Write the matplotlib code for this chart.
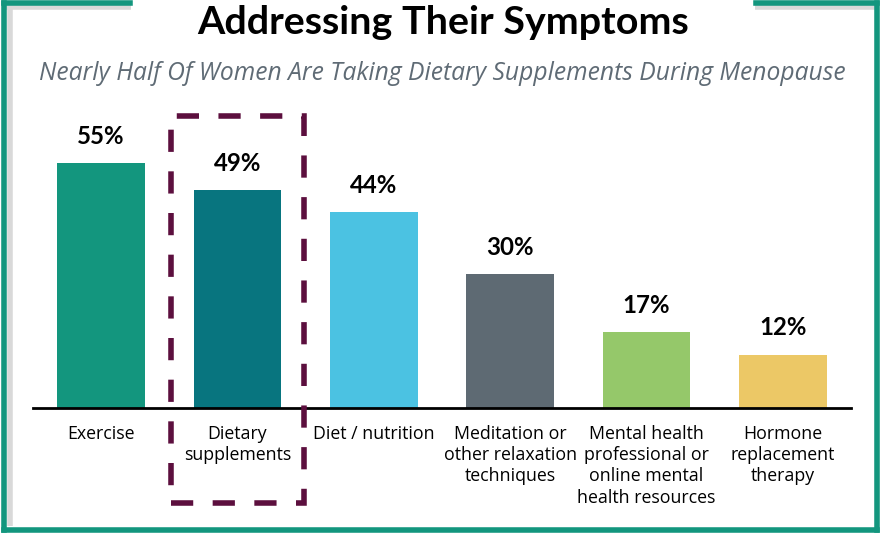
import matplotlib.pyplot as plt
import matplotlib.patches as patches
from matplotlib.lines import Line2D
import numpy as np

plt.rcParams['font.family'] = ['Open Sans', 'DejaVu Sans']

categories = ["Exercise", "Dietary\nsupplements", "Diet / nutrition",
              "Meditation or\nother relaxation\ntechniques",
              "Mental health\nprofessional or\nonline mental\nhealth resources",
              "Hormone\nreplacement\ntherapy"]
values = [55, 49, 44, 30, 17, 12]
colors = ["#13967e", "#08757f", "#4bc2e2", "#5e6a73", "#95c86a", "#ecc866"]
highlight = 1

W, H = 881, 533
fig = plt.figure(figsize=(W / 100, H / 100), dpi=100)

# axes placed so the baseline sits at y=408 px and spans x=33..851 px
ax = fig.add_axes([33 / W, (H - 408) / H, (851 - 33) / W, (408 - 100) / H])
x = np.arange(len(values))
ax.bar(x, values, width=0.645, color=colors)
ax.set_xlim(-0.5, len(values) - 0.5)
ax.set_ylim(0, 69.2)

for xi, v in zip(x, values):
    ax.annotate(f"{v}%", (xi, v), xytext=(0, 11), textcoords="offset points",
                ha="center", va="bottom", fontsize=17.3, fontweight="bold",
                color="black", family=["Lato", "DejaVu Sans"])

ax.set_xticks(x)
ax.set_xticklabels(categories, fontsize=12.8, linespacing=1.24, va="top")
ax.tick_params(axis="x", length=0, pad=12)
ax.set_yticks([])
for s in ["top", "right", "left"]:
    ax.spines[s].set_visible(False)
ax.spines["bottom"].set_linewidth(2)
ax.spines["bottom"].set_color("black")

# dashed highlight box around the dietary supplements bar
box = patches.Rectangle((highlight - 0.485, -21.3), 0.97, 87.0, fill=False,
                        edgecolor="#5c0f3e", linewidth=4, linestyle=(0, (4, 3.5)),
                        clip_on=False, zorder=5)
ax.add_patch(box)

# title and subtitle
fig.text(443 / W, 1 - 22 / H, "Addressing Their Symptoms", ha="center", va="center",
         fontsize=28.4, fontweight="bold", color="black", family=["Lato", "DejaVu Sans"])
fig.text(442 / W, 1 - 73 / H, "Nearly Half Of Women Are Taking Dietary Supplements During Menopause",
         ha="center", va="center", fontsize=17.7, style="italic", color="#5f6b75")

# green frame with gap for title
green = "#13967e"
def fl(xs, ys, **kw):
    fig.add_artist(Line2D([p / W for p in xs], [1 - p / H for p in ys], **kw))

shadow = dict(color="#d9d9d9", linewidth=4, solid_capstyle="butt")
fl([10, 10], [8, 526], **shadow)
fl([5, 131], [7, 7], **shadow)
fl([755, 875], [7, 7], **shadow)
frame = dict(color=green, linewidth=4, solid_capstyle="projecting")
fl([4, 4], [3, 530], **frame)
fl([4, 877], [530, 530], **frame)
fl([877, 877], [3, 530], **frame)
fl([4, 130], [3, 3], **frame)
fl([756, 877], [3, 3], **frame)

fig.savefig("out.png", dpi=100)
